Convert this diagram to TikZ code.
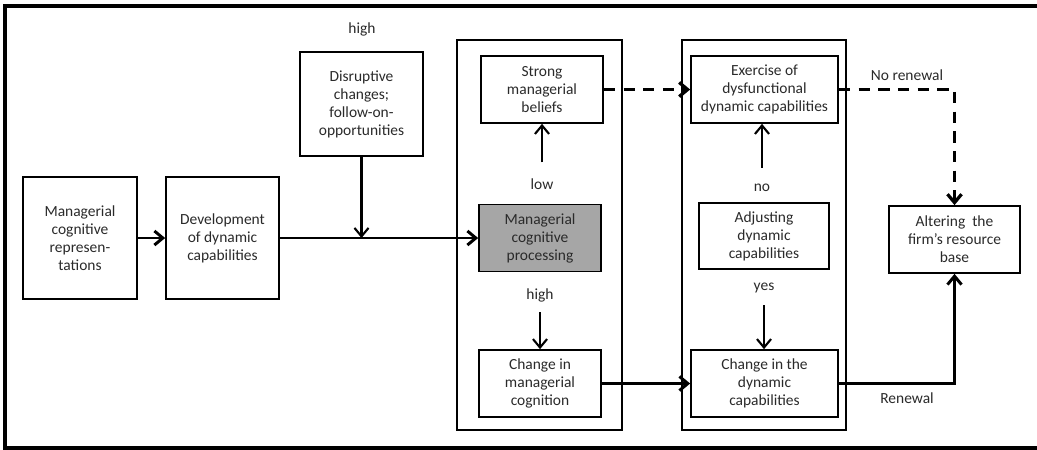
\documentclass[tikz,border=0pt]{standalone}
\usepackage{fontspec}
\setmainfont{Carlito}
\usetikzlibrary{arrows.meta}
\definecolor{inkgray}{HTML}{2A2A2A}
\definecolor{procfill}{HTML}{A6A6A6}
\tikzset{
    boxnode/.style={draw, line width=1.2pt, align=center, text=inkgray,
        font=\fontsize{11}{12.8}\selectfont, inner sep=2pt},
    panel/.style={draw, line width=1.1pt},
    lbl/.style={text=inkgray, font=\fontsize{11}{12.8}\selectfont},
    barb/.tip={Straight Barb[length=6pt, width=10pt]},
    thinarr/.style={-barb, line width=1.5pt},
    flowarr/.style={-barb, line width=2.1pt},
    dasharr/.style={-barb, line width=2.3pt, dash pattern=on 8pt off 6pt},
}
\begin{document}
\begin{tikzpicture}[x=0.025cm, y=-0.025cm]
    \useasboundingbox (0,0) rectangle (1037,449);
    % frame (open on the right)
    \draw[line width=2.3pt] (1037,6) -- (5,6) -- (5,448) -- (1037,448);

    % the two panels
    \node[panel, minimum width=4.125cm, minimum height=9.75cm]
        (leftpanel) at (539.5,235) {};
    \node[panel, minimum width=4.1cm, minimum height=9.75cm]
        (rightpanel) at (764,235) {};

    % boxes
    \node[boxnode, minimum width=2.85cm, minimum height=3.05cm] (rep)
        at (80,238) {Managerial\\cognitive\\represen-\\tations};
    \node[boxnode, minimum width=2.825cm, minimum height=3.05cm] (dev)
        at (222.5,238) {Development\\of dynamic\\capabilities};
    \node[boxnode, minimum width=3.075cm, minimum height=2.6cm] (disr)
        at (361.5,104) {Disruptive\\changes;\\follow-on-\\opportunities};
    \node[boxnode, minimum width=3.05cm, minimum height=1.675cm] (beliefs)
        at (542,89.5) {Strong\\managerial\\beliefs};
    \node[boxnode, fill=procfill, minimum width=3.05cm, minimum height=1.675cm]
        (proc) at (540,238) {Managerial\\cognitive\\processing};
    \node[boxnode, minimum width=3.05cm, minimum height=1.675cm] (mcog)
        at (540,383.5) {Change in\\managerial\\cognition};
    \node[boxnode, minimum width=3.675cm, minimum height=1.675cm] (exer)
        at (764.5,89.5) {Exercise of\\dysfunctional\\dynamic capabilities};
    \node[boxnode, minimum width=3.25cm, minimum height=1.65cm] (adj)
        at (764,236) {Adjusting\\dynamic\\capabilities};
    \node[boxnode, minimum width=3.675cm, minimum height=1.675cm] (dyn)
        at (764.5,383.5) {Change in the\\dynamic\\capabilities};
    \node[boxnode, minimum width=3.275cm, minimum height=1.675cm] (alter)
        at (954.5,239.5) {Altering\ \ the\\firm's resource\\base};

    % labels
    \node[lbl] (disrhigh) at (362,29) {high};
    \node[lbl] (low) at (542,184) {low};
    \node[lbl] (prochigh) at (540,295) {high};
    \node[lbl] (no) at (762,188) {no};
    \node[lbl] (yes) at (764,288) {yes};
    \node[lbl] (norenew) at (907,75) {No renewal};
    \node[lbl] (renew) at (907,398) {Renewal};

    % connectors
    \coordinate (join) at (disr.south |- proc.west);
    \coordinate (bend) at (alter.north |- exer.east);
    \coordinate (rbend) at (alter.south |- dyn.east);
    \draw[flowarr] (rep.east) -- (dev.west);
    \draw[flowarr] (dev.east) -- (proc.west);
    \draw[thinarr] (disr.south) -- (join);
    \draw[thinarr, shorten <=8pt] (low.north) -- (beliefs.south);
    \draw[thinarr, shorten <=4pt] (prochigh.south) -- (mcog.north);
    \draw[thinarr, shorten <=8pt] (no.north) -- (no.north |- exer.south);
    \draw[thinarr, shorten <=5pt] (yes.south) -- (yes.south |- dyn.north);
    \draw[flowarr] (mcog.east) -- (dyn.west);
    \draw[dasharr] (beliefs.east) -- (exer.west);
    \draw[dasharr] (exer.east) -- (bend) -- (alter.north);
    \draw[flowarr] (dyn.east) -- (rbend) -- (alter.south);
\end{tikzpicture}
\end{document}
